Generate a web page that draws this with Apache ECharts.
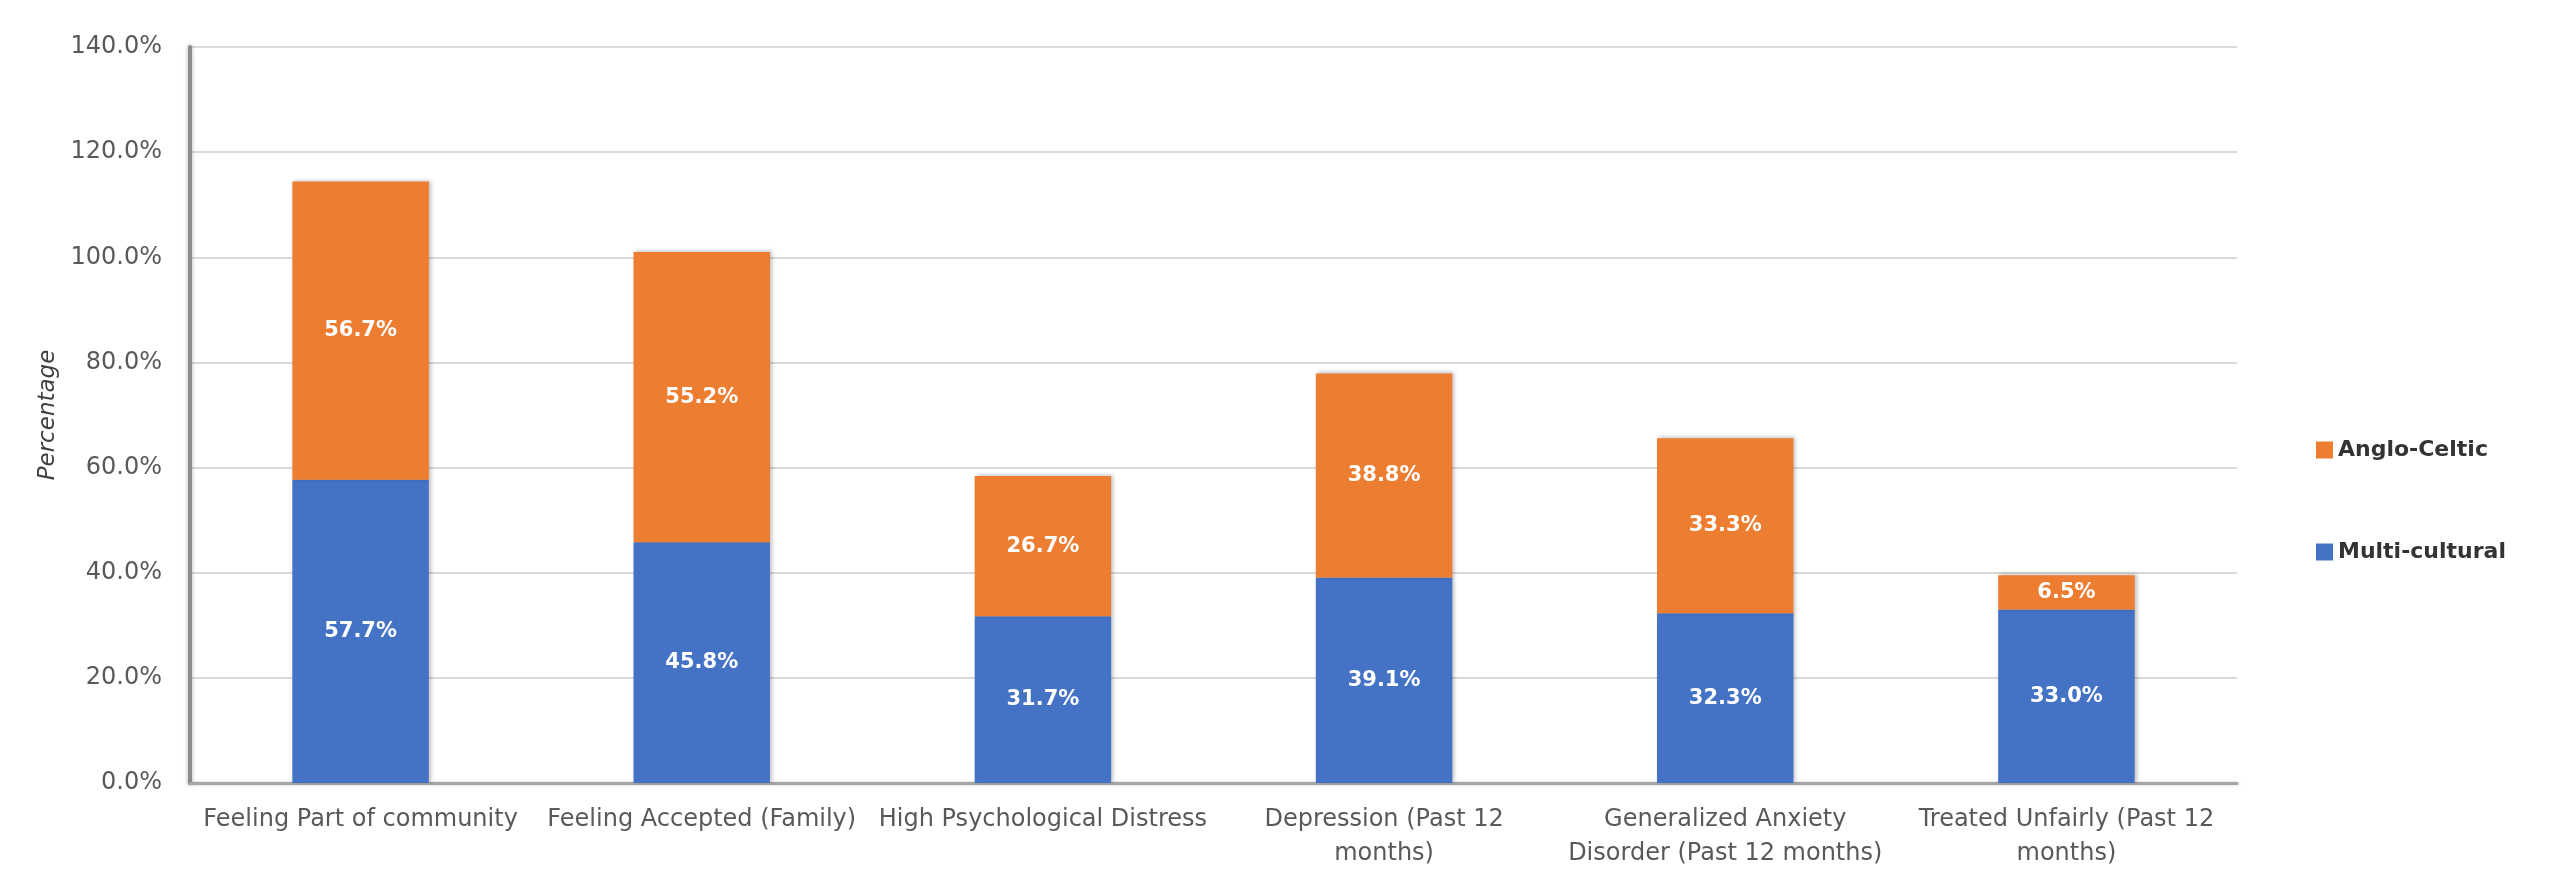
<!DOCTYPE html>
<html>
<head>
<meta charset="utf-8">
<script src="https://cdn.jsdelivr.net/npm/echarts@6/dist/echarts.min.js"></script>
<style>
html,body{margin:0;padding:0;background:#fff;}
#chart{width:2552px;height:874px;}
</style>
</head>
<body>
<div id="chart"></div>
<script>
const categories = [
  'Feeling Part of community',
  'Feeling Accepted (Family)',
  'High Psychological Distress',
  'Depression (Past 12\nmonths)',
  'Generalized Anxiety\nDisorder (Past 12 months)',
  'Treated Unfairly (Past 12\nmonths)'
];
const multiCultural = [57.7, 45.8, 31.7, 39.1, 32.3, 33.0];
const angloCeltic = [56.7, 55.2, 26.7, 38.8, 33.3, 6.5];
const seriesNames = ['Multi-cultural', 'Anglo-Celtic'];

const chart = echarts.init(document.getElementById('chart'));
const labelStyle = {
  show: true,
  position: 'inside',
  color: '#ffffff',
  fontFamily: 'DejaVu Sans',
  fontWeight: 'bold',
  fontSize: 21,
  formatter: p => p.value.toFixed(1) + '%'
};
const shadow = {shadowColor: 'rgba(0,0,0,0.25)', shadowBlur: 4, shadowOffsetX: 2, shadowOffsetY: -1};
chart.setOption({
  animation: false,
  backgroundColor: '#ffffff',
  grid: {left: 190, right: 315, top: 47, bottom: 91, containLabel: false},
  legend: {
    orient: 'vertical',
    left: 2311,
    top: 434,
    itemWidth: 17,
    itemHeight: 17,
    itemGap: 80,
    icon: 'rect',
    data: ['Anglo-Celtic', 'Multi-cultural'],
    textStyle: {fontFamily: 'DejaVu Sans', fontSize: 22, color: '#333333', fontWeight: 'bold'}
  },
  xAxis: {
    type: 'category',
    data: categories,
    axisTick: {show: false},
    axisLine: {show: true, lineStyle: {color: '#a6a6a6', width: 3, shadowColor: 'rgba(0,0,0,0.2)', shadowBlur: 3}},
    axisLabel: {
      interval: 0,
      margin: 20,
      fontFamily: 'DejaVu Sans',
      fontSize: 24,
      lineHeight: 34,
      color: '#595959'
    }
  },
  yAxis: {
    type: 'value',
    min: 0,
    max: 140,
    interval: 20,
    name: 'Percentage',
    nameLocation: 'middle',
    nameRotate: 90,
    nameGap: 130,
    nameTextStyle: {fontFamily: 'DejaVu Sans', fontStyle: 'italic', fontSize: 23, color: '#404040'},
    axisLine: {show: true, lineStyle: {color: '#8c8c8c', width: 4, shadowColor: 'rgba(0,0,0,0.3)', shadowBlur: 4}},
    axisTick: {show: false},
    splitLine: {lineStyle: {color: '#d9d9d9', width: 2}},
    axisLabel: {
      margin: 28,
      fontFamily: 'DejaVu Sans',
      fontSize: 24,
      color: '#595959',
      formatter: v => v.toFixed(1) + '%'
    }
  },
  series: [
    {
      name: seriesNames[0],
      type: 'bar',
      stack: 'total',
      barWidth: '40%',
      data: multiCultural,
      itemStyle: Object.assign({color: '#4472C4'}, shadow),
      label: labelStyle
    },
    {
      name: seriesNames[1],
      type: 'bar',
      stack: 'total',
      barWidth: '40%',
      data: angloCeltic,
      itemStyle: Object.assign({color: '#ED7D31'}, shadow),
      label: labelStyle
    }
  ]
});
</script>
</body>
</html>
